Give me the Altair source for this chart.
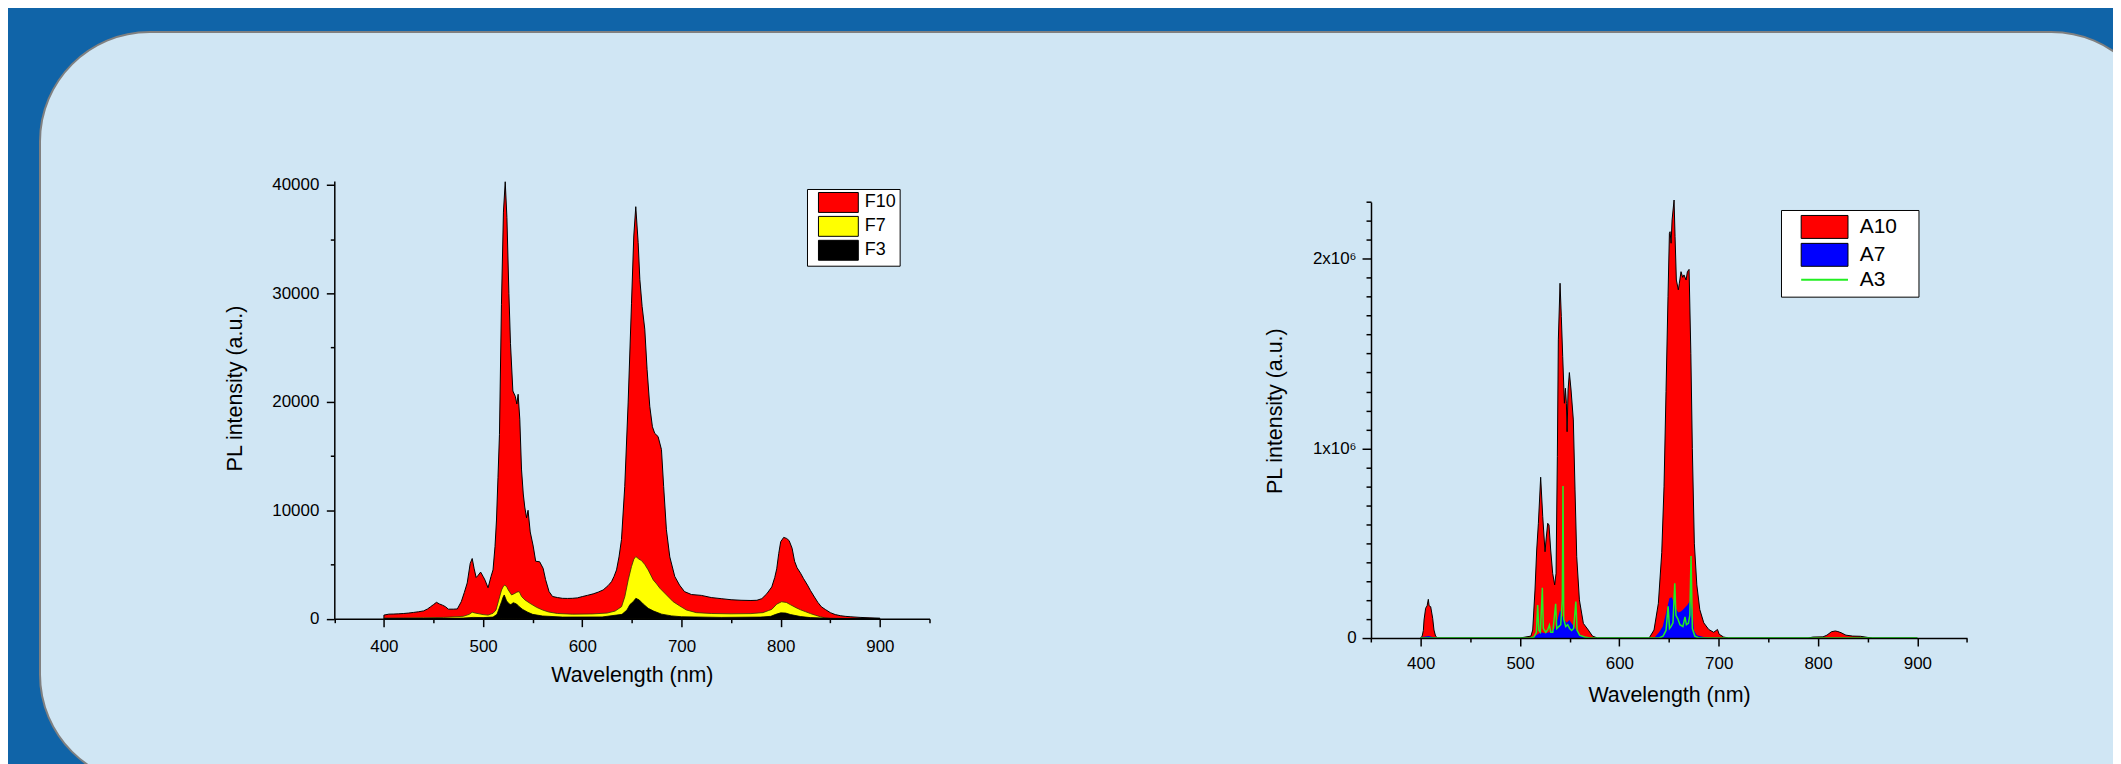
import altair as alt
import pandas as pd

# ---------------- data ----------------
F10_wl = [400, 405, 410, 415, 420, 425, 430, 435, 440, 444, 447, 450, 453, 456, 459, 462, 465, 470, 474, 478,
          481, 484, 487, 489, 491, 493, 495, 497.5, 500, 502, 505, 508, 510, 512, 513.5, 515, 516.5, 518.5, 520.5,
          522.3, 524, 526, 527.6, 530, 532.5, 534, 535.3, 537, 538.7, 540.5, 542, 543.8, 545.3, 547.5, 550.5, 553,
          557, 560.5, 563, 566.5, 570, 575, 580, 585, 590, 595, 600, 605, 611, 616, 621, 626, 629.5, 632, 634.5,
          637, 639.5, 642.8, 646.2, 649.6, 651.9, 653.9, 656.3, 658, 660.3, 663, 665.3, 668, 670.7, 673, 676.4,
          679.8, 682, 684.8, 688.2, 693.2, 698, 703, 710, 720, 730, 740, 750, 760, 770, 776, 781, 786, 791, 794,
          796, 798, 800, 803, 806, 808.5, 811.5, 814, 816.5, 820, 823, 827, 830, 834, 837.5, 841, 845, 850, 855,
          860, 865, 870, 880, 890, 900]
F10_val = [330, 420, 430, 450, 480, 520, 580, 640, 720, 900, 1100, 1300, 1510, 1360, 1250, 1110, 880, 880, 900, 1570,
           2400, 3300, 5100, 5550, 4600, 3800, 4000, 4300, 3900, 3550, 2850, 3900, 4500, 6650, 9100, 13000, 17000,
           29000, 37500, 40300, 37000, 30000, 25400, 21000, 20500, 19800, 20700, 18400, 13800, 11500, 10300, 9300,
           10000, 8000, 6700, 5300, 5250, 4650, 3600, 2500, 2050, 1950, 1880, 1870, 1880, 1920, 2040, 2150, 2290,
           2450, 2650, 3050, 3420, 3900, 4500, 5700, 7300, 12200, 19900, 29100, 35300, 38000, 34700, 31300, 28800,
           26700, 23000, 19600, 17700, 17100, 16800, 15600, 12200, 8200, 5700, 3900, 3100, 2500, 2230, 2150, 1950,
           1850, 1750, 1700, 1680, 1700, 1850, 2300, 2930, 3800, 4600, 6000, 7100, 7500, 7400, 7200, 6500, 5300,
           4700, 4200, 3700, 3100, 2600, 2000, 1500, 1100, 850, 560, 380, 280, 220, 180, 120, 80, 50]

F7_wl = [400, 420, 440, 460, 480, 486, 489, 492, 496, 500, 505, 510, 513, 516, 518.6, 520.5, 522, 524, 525.4, 528.7,
         532.1, 534, 536.4, 538.8, 542.2, 547.2, 553.9, 560, 566, 575, 590, 610, 625, 633, 639.6, 642.9, 646.3,
         649.6, 652, 654, 657, 659.7, 663, 666.4, 671.5, 675, 678.2, 684.9, 691.6, 698.3, 705, 715, 730, 750, 770,
         782, 788, 791, 796, 800.8, 805.7, 810, 815.4, 820, 825.2, 830, 835, 840, 845, 850, 870, 900]
F7_val = [60, 70, 90, 120, 220, 400, 600, 520, 450, 380, 330, 500, 800, 1800, 2650, 3000, 3110, 2900, 2650, 2190,
          2340, 2450, 2500, 2040, 1730, 1420, 1050, 800, 620, 480, 420, 440, 520, 700, 1110, 2040, 3580, 4810, 5500,
          5730, 5500, 5360, 5000, 4500, 3580, 3200, 2810, 2190, 1570, 1170, 800, 560, 480, 450, 470, 560, 760, 860,
          1340, 1560, 1500, 1280, 1020, 820, 640, 470, 320, 180, 70, 30, 10, 0]

F3_wl = [400, 450, 480, 490, 500, 510, 514, 518.6, 520.2, 521.3, 523.7, 526.4, 528, 530.4, 533.7, 536.4, 540, 545,
         550, 560, 580, 620, 640, 645, 648, 651.3, 654, 657.4, 661.4, 666.4, 672, 680, 690, 700, 740, 780, 790,
         795, 800, 805, 810, 820, 830, 850, 900]
F3_val = [0, 20, 60, 120, 100, 150, 400, 1570, 2000, 2190, 1640, 1360, 1300, 1480, 1360, 1110, 850, 600, 400, 250,
          150, 160, 400, 800, 1300, 1570, 1880, 1730, 1360, 960, 700, 420, 260, 180, 120, 150, 220, 400, 540, 520,
          380, 200, 100, 30, 0]

# right panel, values in millions
A10_wl = [400, 401.5, 402.7, 403.4, 405, 406.5, 407.7, 408.5, 410.1, 412.1, 413.4, 415, 417, 500, 511, 512.8, 515.1,
          516.8, 518.5, 520.8, 522.9, 525.2, 526.2, 527.9, 529.2, 530.9, 532.9, 534.9, 536.3, 537.6, 538.6, 540.3,
          541.6, 543, 544.7, 545.7, 546.7, 547.4, 548.4, 549.7, 551.4, 553.7, 555.4, 557.1, 559.8, 563.8, 568.8,
          573, 578, 630, 634.9, 639.3, 642.7, 645, 647, 649, 650.4, 651.1, 652.1, 653.1, 655.1, 656.1, 657.4,
          659.4, 660.4, 662.1, 663.8, 665.1, 667.2, 668.5, 670.2, 672, 673.5, 675.5, 678, 681, 685, 690, 695,
          698.8, 700.5, 705, 710, 790, 795, 805, 809, 813.5, 817.4, 820, 823.2, 828.1, 835, 842.7, 850, 855, 900]
A10_val_M = [0, 0.01, 0.04, 0.095, 0.157, 0.17, 0.204, 0.17, 0.165, 0.104, 0.042, 0.01, 0, 0, 0.01, 0.042, 0.253,
             0.464, 0.605, 0.848, 0.64, 0.455, 0.517, 0.605, 0.596, 0.464, 0.341, 0.28, 0.341, 0.957, 1.572, 1.871,
             1.695, 1.484, 1.238, 1.317, 1.238, 1.088, 1.308, 1.4, 1.308, 1.15, 0.781, 0.429, 0.201, 0.077, 0.042,
             0.01, 0, 0, 0.042, 0.183, 0.45, 0.8, 1.3, 1.8, 2.134, 2.143, 2.082, 2.205, 2.31, 2.117, 1.888, 1.836,
             1.871, 1.932, 1.902, 1.915, 1.888, 1.932, 1.944, 1.5, 1.0, 0.5, 0.28, 0.15, 0.08, 0.045, 0.03, 0.045,
             0.02, 0.005, 0, 0, 0.005, 0.006, 0.015, 0.033, 0.037, 0.034, 0.028, 0.015, 0.01, 0.009, 0.003, 0, 0]

A7_wl = [400, 402, 408, 414, 420, 510, 515, 518, 521, 525, 530, 535, 538, 540.3, 542, 544.7, 547, 549.7, 552, 554.4,
         557, 560, 565, 570, 635, 640, 643.7, 647.7, 650.4, 652.7, 655.1, 657.5, 659.4, 662, 664.5, 668.5, 671.2,
         673.5, 675.2, 678, 685, 690, 900]
A7_val_M = [0, 0.005, 0.01, 0.003, 0, 0, 0.01, 0.02, 0.03, 0.025, 0.03, 0.05, 0.1, 0.148, 0.121, 0.095, 0.08, 0.095,
            0.077, 0.06, 0.04, 0.02, 0.005, 0, 0, 0.03, 0.06, 0.148, 0.209, 0.215, 0.183, 0.15, 0.134, 0.14, 0.151,
            0.174, 0.197, 0.148, 0.04, 0.015, 0.005, 0, 0]

A3_wl = [400, 510, 514, 516.5, 517.8, 519, 520.5, 522.5, 523.5, 526, 528, 529.6, 531, 533, 535.9, 537, 539, 541,
         542.6, 543.3, 544, 546, 548, 550, 552, 554, 556.2, 557.5, 560, 565, 570, 640, 644, 647, 649.1, 650.5, 652,
         654, 655.8, 657, 659, 661, 664, 666.1, 667.5, 669.5, 671, 672.2, 673.5, 676, 680, 900]
A3_val_M = [0, 0, 0.005, 0.03, 0.174, 0.04, 0.03, 0.265, 0.05, 0.03, 0.045, 0.068, 0.03, 0.03, 0.18, 0.05, 0.06,
            0.07, 0.2, 0.802, 0.1, 0.06, 0.07, 0.05, 0.04, 0.05, 0.192, 0.04, 0.015, 0.005, 0, 0, 0.01, 0.04, 0.167,
            0.05, 0.06, 0.08, 0.288, 0.12, 0.1, 0.07, 0.06, 0.111, 0.07, 0.077, 0.12, 0.433, 0.05, 0.01, 0, 0]

F_names = ["F10", "F7", "F3"]
F_colors = ["#ff0000", "#ffff00", "#000000"]
A_names = ["A10", "A7", "A3"]
A_colors = ["#ff0000", "#0000ff", "#22ee22"]

x_domain = [350, 950]
x_major = [400, 500, 600, 700, 800, 900]
x_minor = [350, 450, 550, 650, 750, 850, 950]
F_y_domain = [0, 40370]
F_y_major = [0, 10000, 20000, 30000, 40000]
F_y_minor = [5000, 15000, 25000, 35000]
A_y_domain = [0, 2300000]
A_y_major = [0, 1000000, 2000000]
A_y_minor = [100000, 200000, 300000, 400000, 500000, 600000, 700000, 800000, 900000,
             1100000, 1200000, 1300000, 1400000, 1500000, 1600000, 1700000, 1800000, 1900000,
             2100000, 2200000, 2300000]

# ---------------- layout / style ----------------
W, H = 2113, 756
S = 2105.0 / W                      # the page squeezes the svg to the body width
DY = (H - H * S) / 2.0
DARK = "#1064A8"
LIGHT = "#D0E6F4"
FONT = "Arial"


def cx(page_x):
    return (page_x - 8) / S


def cy(page_y):
    return (page_y - 8 - DY) / S


LX = [cx(334.3), cx(929.5)]
LY = [cy(618.7), cy(181.0)]
RX = [cx(1371.0), cx(1967.0)]
RY = [cy(638.0), cy(201.9)]


def frame(wl, val, name, mult=1.0):
    return pd.DataFrame({"wl": wl, "val": [v * mult for v in val], "series": [name] * len(wl)})


AX = dict(domainColor="black", domainWidth=1.5, tickColor="black", tickWidth=1.5, labelColor="black",
          titleColor="black", labelFont=FONT, titleFont=FONT, titleFontWeight="normal", grid=False,
          labelFontSize=17, titleFontSize=21.5, labelFlush=False, labelOverlap=False, zindex=1)


def x_axis_major(y0, xr, title_y, pad):
    return alt.Axis(orient="bottom", offset=y0 - H, values=x_major, tickSize=8, labelPadding=pad,
                    title="Wavelength (nm)", titleX=(xr[0] + xr[1]) / 2, titleY=title_y, titleAlign="center",
                    titleBaseline="middle", **AX)


def x_axis_minor(y0):
    return alt.Axis(orient="bottom", offset=y0 - H, values=x_minor, tickSize=4, labels=False, domain=False,
                    title=None, **AX)


def y_axis_major(x0, values, tick, pad, title_x, title_y, **kw):
    return alt.Axis(orient="left", offset=-x0, values=values, tickSize=tick, labelPadding=pad,
                    title="PL intensity (a.u.)", titleAngle=270, titleX=title_x, titleY=title_y,
                    titleAlign="center", titleBaseline="middle", **AX, **kw)


def y_axis_minor(x0, values, tick):
    return alt.Axis(orient="left", offset=-x0, values=values, tickSize=tick, labels=False, domain=False,
                    title=None, **AX)


lxs = alt.Scale(domain=x_domain, range=LX, nice=False, zero=False)
lys = alt.Scale(domain=F_y_domain, range=LY, nice=False)
rxs = alt.Scale(domain=x_domain, range=RX, nice=False, zero=False)
rys = alt.Scale(domain=A_y_domain, range=RY, nice=False)

F_fill = alt.Scale(domain=F_names, range=F_colors)
A_fill = alt.Scale(domain=A_names, range=A_colors)

legend_F = alt.Legend(title=None, orient="none", legendX=cx(807), legendY=cy(189), direction="vertical",
                      padding=3, fillColor="white", strokeColor="black", symbolType="M-2,-1H2V1H-2Z",
                      symbolSize=400, symbolStrokeColor="black", symbolStrokeWidth=1, symbolOpacity=1,
                      symbolOffset=18, labelOffset=16, labelFontSize=18, labelFont=FONT, labelColor="black",
                      rowPadding=-1, labelBaseline="middle")

legend_A = alt.Legend(title=None, orient="none", legendX=cx(1781), legendY=cy(210), direction="vertical",
                      padding=6.5, fillColor="white", strokeColor="black",
                      symbolType={"expr": "datum.value === 'A3' ? 'M-2,0H2' : 'M-2,-0.98H2V0.98H-2Z'"},
                      symbolSize=552,
                      symbolStrokeColor={"expr": "datum.value === 'A3' ? '#22ee22' : 'black'"},
                      symbolStrokeWidth={"expr": "datum.value === 'A3' ? 2 : 1"},
                      symbolOpacity=1, symbolOffset=26.75,
                      labelOffset=24.75, labelFontSize=21, labelFont=FONT, labelColor="black", rowPadding=-1,
                      labelBaseline="middle", labelExpr="datum.label + '\u2800'")

# background panel
panel = alt.Chart(pd.DataFrame({"p": [0]})).mark_rect(
    fill=LIGHT, stroke="#808080", strokeWidth=2, cornerRadius=110
).encode(x=alt.value(cx(40)), x2=alt.value(cx(2161)), y=alt.value(cy(32)), y2=alt.value(cy(784)))

# left panel
f10 = alt.Chart(frame(F10_wl, F10_val, "F10")).mark_area(stroke="black", strokeWidth=1).encode(
    x=alt.X("wl:Q", scale=lxs, axis=x_axis_major(LY[0], LX, 57.5, 11.5)),
    y=alt.Y("val:Q", scale=lys, axis=y_axis_major(LX[0], F_y_major, 8, 7.5, cx(235.6) - LX[0], cy(388),
                                                  format="d")),
    fill=alt.Fill("series:N", scale=F_fill, legend=legend_F),
)
f7 = alt.Chart(frame(F7_wl, F7_val, "F7")).mark_area(stroke="#333300", strokeWidth=0.8).encode(
    x=alt.X("wl:Q", scale=lxs, axis=x_axis_minor(LY[0])),
    y=alt.Y("val:Q", scale=lys, axis=y_axis_minor(LX[0], F_y_minor, 4)),
    fill=alt.Fill("series:N", scale=F_fill, legend=None),
)
f3 = alt.Chart(frame(F3_wl, F3_val, "F3")).mark_area(stroke="black", strokeWidth=0.8).encode(
    x=alt.X("wl:Q", scale=lxs, axis=None),
    y=alt.Y("val:Q", scale=lys, axis=None),
    fill=alt.Fill("series:N", scale=F_fill, legend=None),
)

# right panel
a10_df = frame(A10_wl, A10_val_M, "A10", 1e6)
a10 = alt.Chart(a10_df).mark_area().encode(
    x=alt.X("wl:Q", scale=rxs, axis=x_axis_major(RY[0], RX, 58, 10)),
    y=alt.Y("val:Q", scale=rys, axis=y_axis_major(
        RX[0], A_y_major, 9, 6, cx(1276) - RX[0], cy(410.7),
        labelExpr="datum.value === 0 ? '0' : format(datum.value / 1000000, 'd') + 'x10\u2076'")),
    fill=alt.Fill("series:N", scale=A_fill, legend=legend_A),
)
a10_edge = alt.Chart(a10_df).mark_line(color="black", strokeWidth=1).encode(
    x=alt.X("wl:Q", scale=rxs, axis=None),
    y=alt.Y("val:Q", scale=rys, axis=None),
)
a7 = alt.Chart(frame(A7_wl, A7_val_M, "A7", 1e6)).mark_area().encode(
    x=alt.X("wl:Q", scale=rxs, axis=x_axis_minor(RY[0])),
    y=alt.Y("val:Q", scale=rys, axis=y_axis_minor(RX[0], A_y_minor, 5)),
    fill=alt.Fill("series:N", scale=A_fill, legend=None),
)
a3 = alt.Chart(frame(A3_wl, A3_val_M, "A3", 1e6)).mark_line(strokeWidth=1.5).encode(
    x=alt.X("wl:Q", scale=rxs, axis=None),
    y=alt.Y("val:Q", scale=rys, axis=None),
    stroke=alt.Stroke("series:N", scale=A_fill, legend=None),
)

chart = alt.layer(panel, f10, f7, f3, a10, a10_edge, a7, a3).resolve_scale(
    x="independent", y="independent", fill="independent", stroke="independent"
).properties(
    width=W, height=H, autosize=alt.AutoSizeParams(type="none"), padding=0, background=DARK
).configure_view(strokeWidth=0)

chart.save("out.html", embed_options={"renderer": "svg", "actions": False})
